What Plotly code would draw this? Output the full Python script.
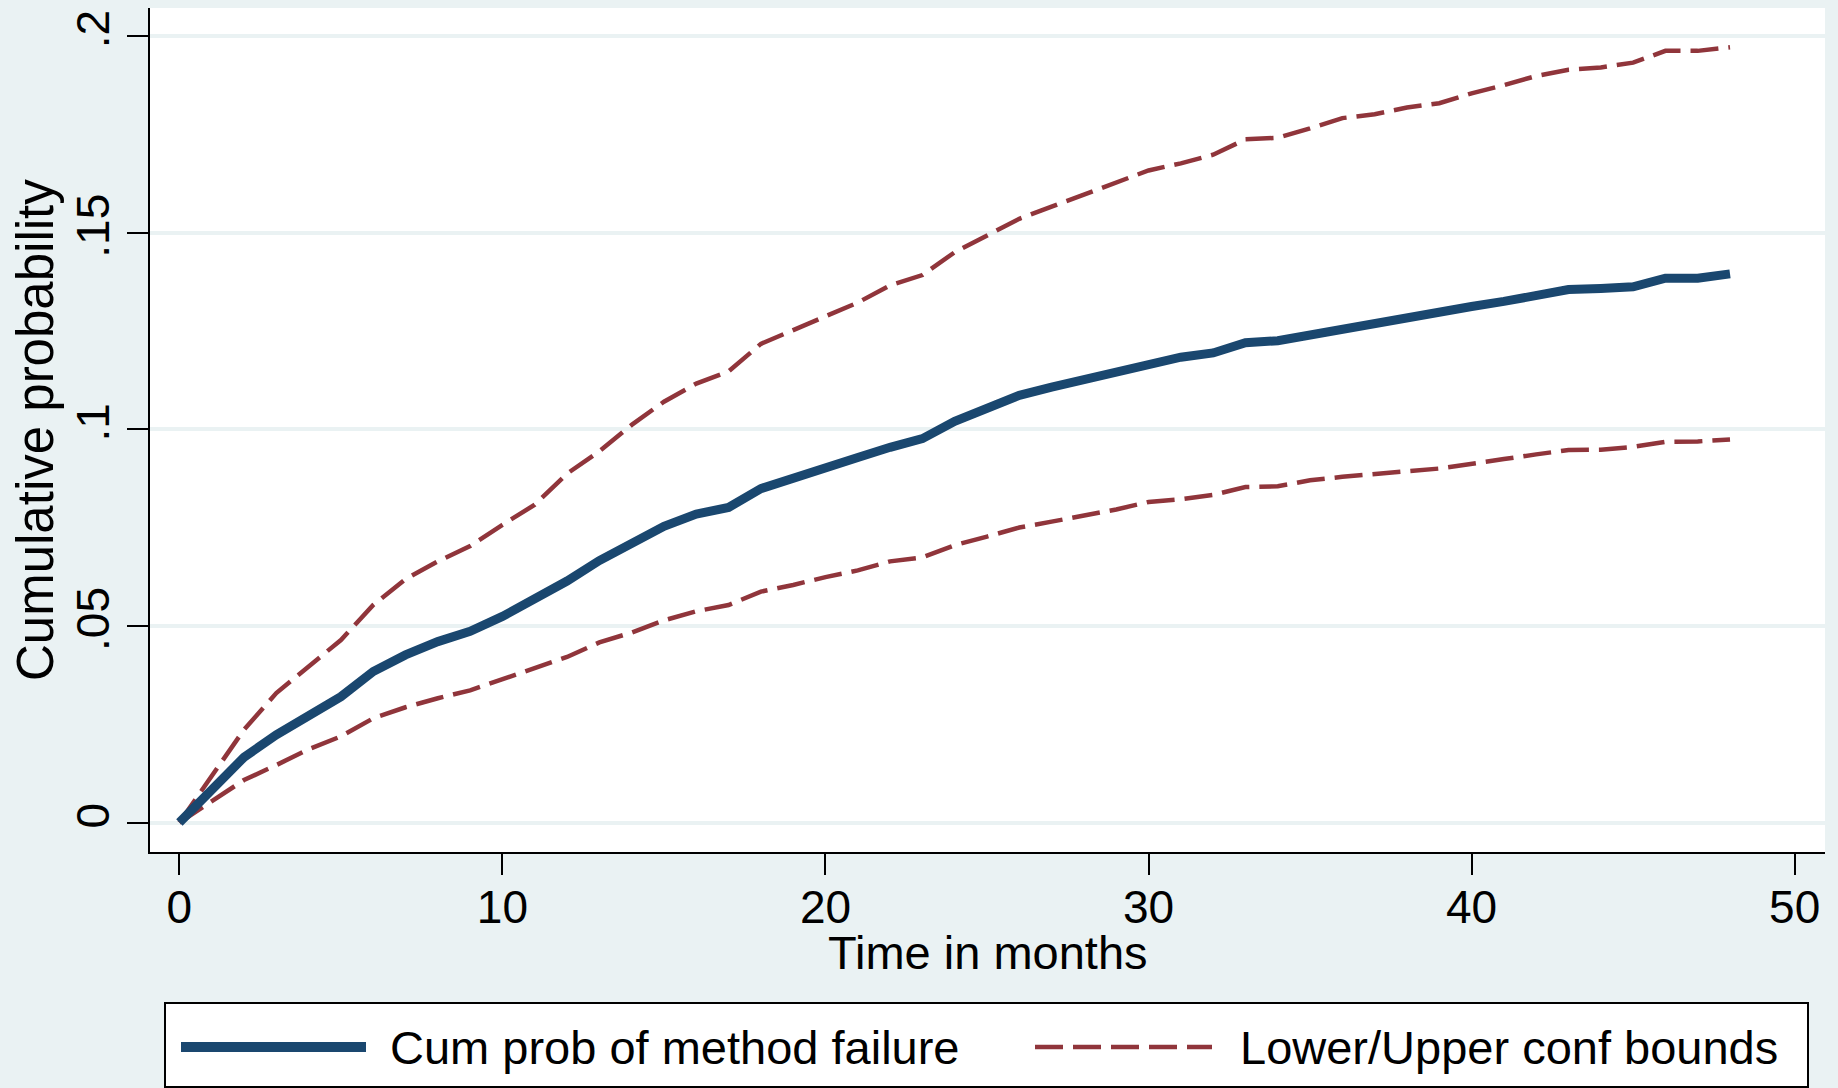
import plotly.graph_objects as go

# Cumulative probability of method failure by month, with confidence bounds
months = list(range(0, 49))

cum_prob = [
    0.0, 0.0083, 0.0166, 0.0223, 0.0274, 0.0320, 0.0384, 0.0426, 0.0460, 0.0486,
    0.0524, 0.0566, 0.0614, 0.0666, 0.0709, 0.0753, 0.0784, 0.0801, 0.0849, 0.0877,
    0.0902, 0.0928, 0.0954, 0.0976, 0.1020, 0.1056, 0.1086, 0.1107, 0.1127, 0.1146,
    0.1168, 0.1183, 0.1194, 0.1220, 0.1225, 0.1240, 0.1257, 0.1269, 0.1283, 0.1297,
    0.1312, 0.1325, 0.1340, 0.1355, 0.1358, 0.1362, 0.1384, 0.1384, 0.1395,
]

upper_bound = [
    0.0, 0.0119, 0.0236, 0.0329, 0.0397, 0.0464, 0.0553, 0.0619, 0.0664, 0.0703,
    0.0757, 0.0808, 0.0887, 0.0944, 0.1011, 0.1070, 0.1116, 0.1147, 0.1217, 0.1252,
    0.1287, 0.1322, 0.1366, 0.1392, 0.1450, 0.1494, 0.1535, 0.1566, 0.1597, 0.1627,
    0.1658, 0.1676, 0.1698, 0.1737, 0.1741, 0.1765, 0.1791, 0.1801, 0.1818, 0.1829,
    0.1854, 0.1875, 0.1898, 0.1914, 0.1920, 0.1932, 0.1962, 0.1962, 0.1971,
]

lower_bound = [
    0.0, 0.0055, 0.0108, 0.0146, 0.0186, 0.0219, 0.0265, 0.0293, 0.0316, 0.0336,
    0.0364, 0.0390, 0.0421, 0.0458, 0.0483, 0.0514, 0.0537, 0.0553, 0.0587, 0.0604,
    0.0624, 0.0641, 0.0664, 0.0674, 0.0705, 0.0727, 0.0750, 0.0765, 0.0780, 0.0796,
    0.0815, 0.0822, 0.0833, 0.0853, 0.0855, 0.0870, 0.0879, 0.0885, 0.0893, 0.0900,
    0.0913, 0.0924, 0.0936, 0.0947, 0.0948, 0.0955, 0.0968, 0.0969, 0.0974,
]

x_ticks = [0, 10, 20, 30, 40, 50]
y_ticks = [0, 0.05, 0.1, 0.15, 0.2]
y_tick_text = ["0", ".05", ".1", ".15", ".2"]

series_labels = ["Cum prob of method failure", "Lower/Upper conf bounds"]
x_title = "Time in months"
y_title = "Cumulative probability"

# Styling
W, H = 1838, 1088
NAVY = "#1a476f"
MAROON = "#90353b"
BG = "#eaf2f3"
FONT = "Liberation Sans, Arial, sans-serif"
DASH = "28px,10px"

# Plot region in pixels
PL, PR, PT, PB = 150, 1825, 8, 852


def px(x):
    return x / W


def py(y):
    return 1 - y / H


fig = go.Figure()

fig.add_trace(go.Scatter(
    x=months, y=upper_bound, mode="lines",
    line=dict(color=MAROON, width=4.5, dash=DASH),
    hoverinfo="skip", showlegend=False,
))
fig.add_trace(go.Scatter(
    x=months, y=lower_bound, mode="lines",
    line=dict(color=MAROON, width=4.5, dash=DASH),
    hoverinfo="skip", showlegend=False,
))
fig.add_trace(go.Scatter(
    x=months, y=cum_prob, mode="lines",
    line=dict(color=NAVY, width=9),
    showlegend=False,
))

axis_common = dict(
    showline=True, linecolor="black", linewidth=2,
    ticks="outside", ticklen=21, tickwidth=2, tickcolor="black",
    tickfont=dict(family=FONT, size=46, color="black"),
    zeroline=False, automargin=False,
)

fig.update_xaxes(
    domain=[px(PL), px(PR)],
    range=[-0.91, 50.94],
    tickvals=x_ticks,
    showgrid=False,
    ticklabelstandoff=-7,
    **axis_common,
)
fig.update_yaxes(
    domain=[py(PB), py(PT)],
    range=[-0.0075, 0.2071],
    tickvals=y_ticks, ticktext=y_tick_text,
    tickangle=-90,
    showgrid=True, gridcolor=BG, gridwidth=4,
    **axis_common,
)

annotations = [
    dict(text=x_title, x=px((PL + PR) / 2), y=py(952), xref="paper", yref="paper",
         xanchor="center", yanchor="middle", showarrow=False,
         font=dict(family=FONT, size=47, color="black")),
    dict(text=y_title, x=px(35), y=py((PT + PB) / 2), xref="paper", yref="paper",
         xanchor="center", yanchor="middle", textangle=-90, showarrow=False,
         font=dict(family=FONT, size=51, color="black")),
    dict(text=series_labels[0], x=px(388), y=py(1047), xref="paper", yref="paper",
         xanchor="left", yanchor="middle", showarrow=False,
         font=dict(family=FONT, size=47, color="black")),
    dict(text=series_labels[1], x=px(1238), y=py(1047), xref="paper", yref="paper",
         xanchor="left", yanchor="middle", showarrow=False,
         font=dict(family=FONT, size=47, color="black")),
]

shapes = [
    # legend frame
    dict(type="rect", xref="paper", yref="paper",
         x0=px(165), x1=px(1808), y0=py(1003), y1=py(1087),
         fillcolor="white", line=dict(color="black", width=2), layer="below"),
    # legend keys
    dict(type="line", xref="paper", yref="paper",
         x0=px(181), x1=px(366), y0=py(1047), y1=py(1047),
         line=dict(color=NAVY, width=10)),
    dict(type="line", xref="paper", yref="paper",
         x0=px(1035), x1=px(1212), y0=py(1047), y1=py(1047),
         line=dict(color=MAROON, width=4.5, dash=DASH)),
]

fig.update_layout(
    width=W, height=H, autosize=False,
    margin=dict(l=0, r=0, t=0, b=0),
    paper_bgcolor=BG, plot_bgcolor="white",
    font=dict(family=FONT, color="black"),
    showlegend=False,
    annotations=annotations,
    shapes=shapes,
)

fig.write_html("out.html")
